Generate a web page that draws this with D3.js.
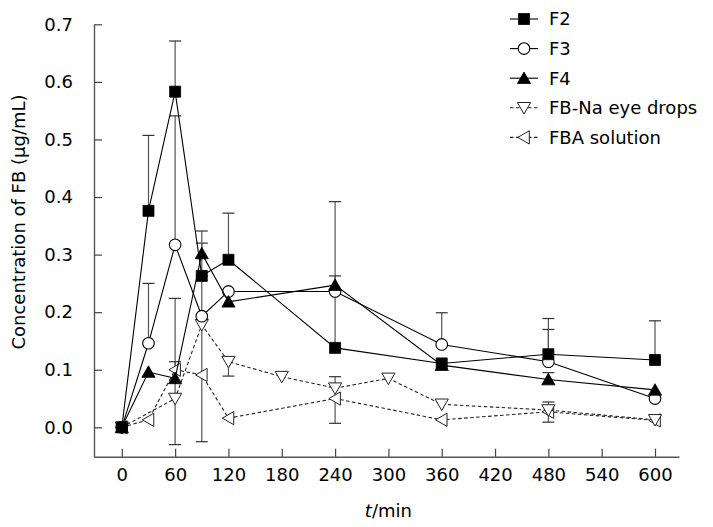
<!DOCTYPE html>
<html><head><meta charset="utf-8">
<script src="https://cdn.jsdelivr.net/npm/d3@7"></script>
<style>body{margin:0;background:#fff}svg{display:block}text{font-family:"DejaVu Sans",Verdana,sans-serif}</style>
</head><body><svg id="c" width="713" height="527"></svg>
<script>
// ---- data ----
const timesMain = [0, 30, 60, 90, 120, 240, 360, 480, 600];
const timesNa   = [0, 60, 90, 120, 180, 240, 300, 360, 480, 600];

const f2     = [0, 0.376, 0.583, 0.263, 0.291, 0.138, 0.111, 0.127, 0.117];
const f2Up   = [0, 0.131, 0.088, 0.057, 0.081, 0, 0, 0.062, 0.068];
const f2Down = [0, 0, 0, 0, 0, 0, 0, 0, 0];

const f3     = [0, 0.146, 0.317, 0.193, 0.236, 0.236, 0.144, 0.114, 0.050];
const f3Up   = [0, 0.104, 0.224, 0.070, 0, 0.156, 0.055, 0.056, 0];
const f3Down = [0, 0, 0, 0.218, 0, 0.098, 0, 0, 0];

const f4     = [0, 0.096, 0.085, 0.302, 0.218, 0.247, 0.108, 0.083, 0.065];
const f4Up   = [0, 0, 0.139, 0.039, 0, 0.016, 0, 0.012, 0];
const f4Down = [0, 0, 0, 0, 0, 0, 0, 0, 0];

const fbna     = [0, 0.050, 0.178, 0.114, 0.088, 0.068, 0.085, 0.040, 0.030, 0.013];
const fbnaUp   = [0, 0.064, 0, 0, 0, 0.020, 0, 0, 0.014, 0];
const fbnaDown = [0, 0.080, 0, 0.025, 0, 0, 0, 0, 0, 0];

const fba     = [0, 0.013, 0.100, 0.091, 0.016, 0.050, 0.013, 0.027, 0.012];
const fbaUp   = [0, 0, 0, 0, 0, 0, 0, 0, 0];
const fbaDown = [0, 0, 0, 0, 0, 0.043, 0, 0.018, 0];

const xTicks = [0, 60, 120, 180, 240, 300, 360, 420, 480, 540, 600];
const yTicks = [0, 0.1, 0.2, 0.3, 0.4, 0.5, 0.6, 0.7];
const seriesNames = ["F2", "F3", "F4", "FB-Na eye drops", "FBA solution"];
const yTitle = "Concentration of FB (\u03bcg/mL)";

// ---- build ----
const series = [
  {name: seriesNames[0], t: timesMain, v: f2, up: f2Up, dn: f2Down, shape: "square", dashed: false},
  {name: seriesNames[1], t: timesMain, v: f3, up: f3Up, dn: f3Down, shape: "circle", dashed: false},
  {name: seriesNames[2], t: timesMain, v: f4, up: f4Up, dn: f4Down, shape: "triUp", dashed: false},
  {name: seriesNames[3], t: timesNa, v: fbna, up: fbnaUp, dn: fbnaDown, shape: "triDown", dashed: true},
  {name: seriesNames[4], t: timesMain, v: fba, up: fbaUp, dn: fbaDown, shape: "triLeft", dashed: true}
];
const drawOrder = [4, 3, 1, 2, 0];

const svg = d3.select("#c");
const x = d3.scaleLinear().domain([-31.3, 627]).range([94, 679]);
const y = d3.scaleLinear().domain([-0.051, 0.7]).range([456.7, 24.3]);

const shapes = {
  square: "M-5.5,-5.5h11v11h-11Z",
  triUp: "M0,-6.2L6.6,5.3L-6.6,5.3Z",
  triDown: "M-6.6,-5.3L6.6,-5.3L0,6.2Z",
  triLeft: "M-6.2,0L5.3,-6.6L5.3,6.6Z"
};
function drawMarker(g, shape, cx, cy) {
  if (shape === "circle") {
    g.append("circle").attr("cx", cx).attr("cy", cy).attr("r", 5.8)
      .attr("fill", "#fff").attr("stroke", "#000").attr("stroke-width", 1.1);
  } else {
    const filled = shape === "square" || shape === "triUp";
    g.append("path").attr("d", shapes[shape]).attr("transform", `translate(${cx},${cy})`)
      .attr("fill", filled ? "#000" : "#fff").attr("stroke", filled ? "#000" : "#222")
      .attr("stroke-width", filled ? 0.8 : 1.0);
  }
}

// axes
const xAxis = d3.axisBottom(x).tickValues(xTicks).tickSizeInner(-8).tickSizeOuter(0).tickPadding(12);
const yAxis = d3.axisLeft(y).tickValues(yTicks).tickFormat(d3.format(".1f")).tickSizeInner(-8).tickSizeOuter(0).tickPadding(21);
const gx = svg.append("g").attr("transform", `translate(0,${y(-0.051)})`).call(xAxis);
const gy = svg.append("g").attr("transform", `translate(${x(-31.3)},0)`).call(yAxis);
[gx, gy].forEach(g => {
  g.select(".domain").attr("stroke", "#555").attr("stroke-width", 1.4);
  g.selectAll(".tick line").attr("stroke", "#444").attr("stroke-width", 1.2);
  g.selectAll(".tick text").attr("fill", "#000").style("font-size", "18px").style("font-family", '"DejaVu Sans",Verdana,sans-serif');
});

// axis titles
svg.append("text").attr("transform", `translate(19,222) rotate(-90)`).attr("text-anchor", "middle")
  .attr("dy", "0.35em").style("font-size", "18px").text(yTitle);
const xt = svg.append("text").attr("x", x(300)).attr("y", 517).attr("text-anchor", "middle").style("font-size", "18px");
xt.append("tspan").style("font-style", "italic").text("t");
xt.append("tspan").text("/min");

// error bars
const eg = svg.append("g").attr("stroke", "#555").attr("stroke-width", 1.2).attr("fill", "none");
series.forEach(s => {
  s.t.forEach((t, i) => {
    const cx = x(t);
    if (s.up[i] > 0) {
      const top = y(s.v[i] + s.up[i]);
      eg.append("line").attr("x1", cx).attr("x2", cx).attr("y1", y(s.v[i])).attr("y2", top);
      eg.append("line").attr("x1", cx - 6).attr("x2", cx + 6).attr("y1", top).attr("y2", top).attr("stroke", "#333");
    }
    if (s.dn[i] > 0) {
      const bot = y(s.v[i] - s.dn[i]);
      eg.append("line").attr("x1", cx).attr("x2", cx).attr("y1", y(s.v[i])).attr("y2", bot);
      eg.append("line").attr("x1", cx - 6).attr("x2", cx + 6).attr("y1", bot).attr("y2", bot).attr("stroke", "#333");
    }
  });
});

// series
const line = d3.line().x(d => x(d[0])).y(d => y(d[1]));
drawOrder.forEach(k => {
  const s = series[k];
  const g = svg.append("g");
  const pts = s.t.map((t, i) => [t, s.v[i]]);
  g.append("path").attr("d", line(pts)).attr("fill", "none")
    .attr("stroke", s.dashed ? "#222" : "#000").attr("stroke-width", 1.1)
    .attr("stroke-dasharray", s.dashed ? "3.5,2.5" : null);
  pts.forEach(p => drawMarker(g, s.shape, x(p[0]), y(p[1])));
});

// legend
const lg = svg.append("g");
series.forEach((s, i) => {
  const cy = 19 + i * 29.6;
  lg.append("line").attr("x1", 510).attr("x2", 538).attr("y1", cy).attr("y2", cy)
    .attr("stroke", s.dashed ? "#222" : "#000").attr("stroke-width", 1.1)
    .attr("stroke-dasharray", s.dashed ? "3.5,2.5" : null);
  drawMarker(lg, s.shape, 524, cy);
  lg.append("text").attr("x", 549).attr("y", cy).attr("dy", "0.36em").style("font-size", "18px").text(s.name);
});
</script></body></html>
